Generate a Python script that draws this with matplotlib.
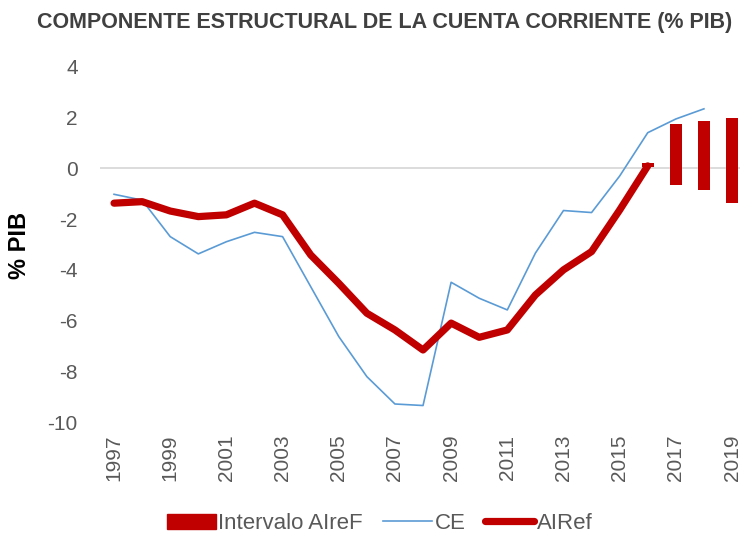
import numpy as np
import matplotlib
matplotlib.use('Agg')
import matplotlib.pyplot as plt
from matplotlib.patches import Patch
from matplotlib.lines import Line2D

# datos (% PIB)
years = list(range(1997, 2020))
ce = [-1.02, -1.25, -2.69, -3.37, -2.89, -2.52, -2.69, -4.66, -6.63, -8.21,
      -9.29, -9.35, -4.49, -5.12, -5.58, -3.34, -1.66, -1.74, -0.30, 1.41,
      1.95, 2.35, np.nan]
airef = [-1.37, -1.31, -1.68, -1.90, -1.83, -1.37, -1.83, -3.41, -4.53, -5.71,
         -6.37, -7.16, -6.10, -6.66, -6.37, -4.99, -4.00, -3.28, -1.64, 0.10,
         np.nan, np.nan, np.nan]
int_years = [2016, 2017, 2018, 2019]
int_low = [0.05, -0.65, -0.87, -1.37]
int_high = [0.20, 1.74, 1.89, 1.98]

rojo = '#C00000'
azul = '#5B9BD5'
gris = '#595959'

plt.rcParams['font.family'] = ['Liberation Sans', 'DejaVu Sans']
plt.rcParams['axes.unicode_minus'] = False

fig = plt.figure(figsize=(7.4, 5.37), dpi=100)
ax = fig.add_axes([100/740, 115/537, 1 - 100/740, 355/537])

x = np.arange(len(years))
xi = [years.index(y) for y in int_years]
ax.bar(xi, np.array(int_high) - np.array(int_low), bottom=int_low,
       width=0.42, color=rojo, zorder=3)
ax.plot(x, ce, color=azul, lw=1.2, zorder=4)
ax.plot(x, airef, color=rojo, lw=5.2, solid_capstyle='round',
        solid_joinstyle='round', zorder=5)

ax.axhline(0, color='#D9D9D9', lw=1.3, zorder=1)

ax.set_ylim(-10, 4)
ax.set_yticks(range(-10, 5, 2))
ax.set_xlim(-0.5, 22 + 8/28.15)
ax.set_xticks(x[::2])
ax.set_xticklabels([str(y) for y in years[::2]], rotation=90)
ax.tick_params(axis='both', length=0, labelsize=15, colors=gris)
ax.tick_params(axis='x', pad=9)
ax.tick_params(axis='y', pad=16)
for s in ax.spines.values():
    s.set_visible(False)

fig.text(20/740, 1 - 245/537, '% PIB', rotation=90, ha='center', va='center',
         fontsize=17, fontweight='bold', color='black')
fig.text(0.52, 0.958, 'COMPONENTE ESTRUCTURAL DE LA CUENTA CORRIENTE (% PIB)',
         ha='center', va='center', fontsize=15.5, fontweight='bold', color='#404040')

handles = [Patch(color=rojo),
           Line2D([], [], color=azul, lw=1.2),
           Line2D([], [], color=rojo, lw=5.2, solid_capstyle='round')]
labels = ['Intervalo AIreF', 'CE', 'AIRef']
fig.legend(handles, labels, loc='center', bbox_to_anchor=(0.513, 0.025), ncol=3,
           frameon=False, fontsize=16, labelcolor=gris, handlelength=2.2,
           handletextpad=0.12, columnspacing=0.9)

fig.savefig('out.png', dpi=100)
